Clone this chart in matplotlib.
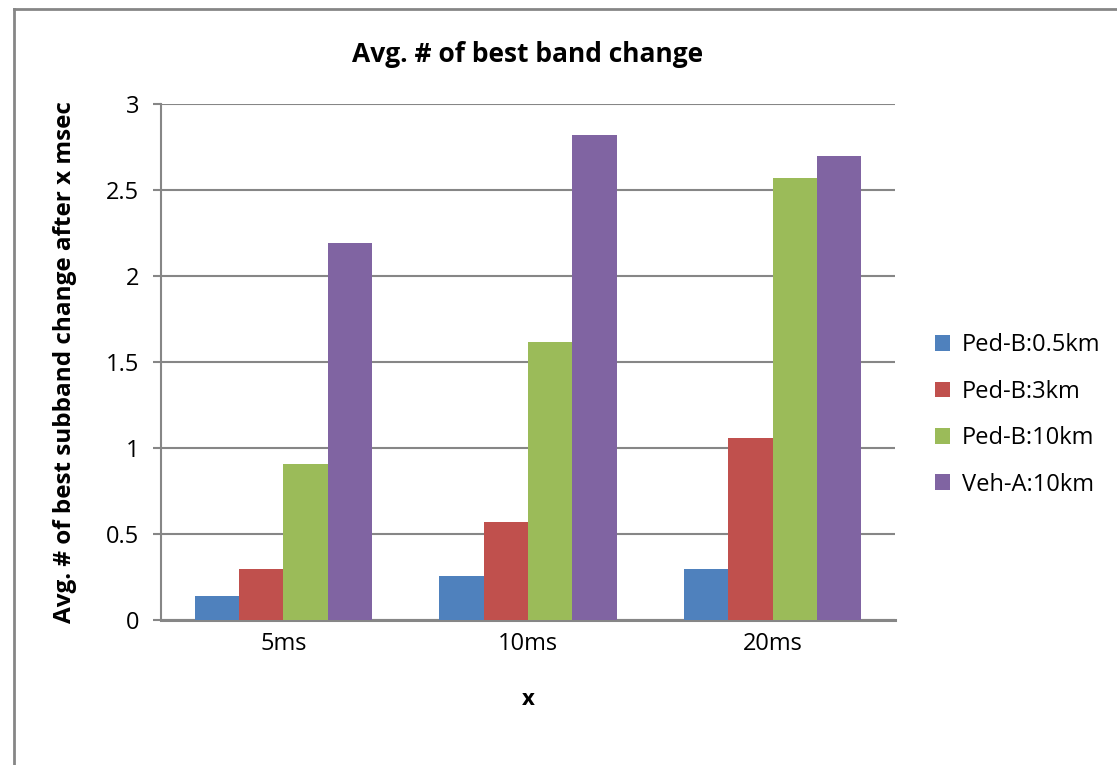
import numpy as np
import matplotlib.pyplot as plt
from matplotlib.lines import Line2D

plt.rcParams['font.family'] = ['Open Sans', 'DejaVu Sans']

# Dados
categorias = ['5ms', '10ms', '20ms']
series = ['Ped-B:0.5km', 'Ped-B:3km', 'Ped-B:10km', 'Veh-A:10km']
ped_b_05 = [0.14, 0.26, 0.30]
ped_b_3 = [0.30, 0.57, 1.06]
ped_b_10 = [0.91, 1.62, 2.57]
veh_a_10 = [2.19, 2.82, 2.70]
cores = ['#4F81BD', '#C0504D', '#9BBB59', '#8064A2']

valores = [ped_b_05, ped_b_3, ped_b_10, veh_a_10]

fig = plt.figure(figsize=(11.17, 7.65), dpi=100)
ax = fig.add_axes([0.1441, 0.189, 0.6572, 0.675])

x = np.arange(len(categorias))
largura = 0.181
for i, (nome, v, c) in enumerate(zip(series, valores, cores)):
    ax.bar(x + (i - 1.5) * largura, v, largura, color=c, label=nome, zorder=3)

ax.set_xlim(-0.5, 2.5)
ax.set_ylim(0, 3)
ax.set_yticks(np.arange(0, 3.01, 0.5))
ax.set_yticklabels(['0', '0.5', '1', '1.5', '2', '2.5', '3'])
ax.set_xticks(x)
ax.set_xticklabels(categorias)
ax.grid(axis='y', color='#868686', lw=1.5, zorder=0)

for lado in ['top', 'right']:
    ax.spines[lado].set_visible(False)
ax.spines['left'].set_color('#868686')
ax.spines['left'].set_linewidth(1.5)
ax.spines['bottom'].set_color('#868686')
ax.spines['bottom'].set_linewidth(2.2)
ax.tick_params(axis='y', length=5.5, width=1.5, color='#868686', labelsize=17, pad=10)
ax.tick_params(axis='x', length=0, labelsize=17, pad=8)

ax.set_title('Avg. # of best band change', fontsize=19, fontweight='bold', pad=30)
ax.set_ylabel('Avg. # of best subband change after x msec', fontsize=17.5,
              fontweight='bold', labelpad=21)
ax.set_xlabel('x', fontsize=16, fontweight='bold', labelpad=24)

ax.legend(loc='center left', bbox_to_anchor=(1.025, 0.398), frameon=False,
          fontsize=17, handlelength=0.65, handleheight=0.65, labelspacing=0.95,
          handletextpad=0.5)

# moldura do gráfico
fig.add_artist(Line2D([0.0125, 0.0125], [0, 0.988], color='#868686', lw=2))
fig.add_artist(Line2D([0.0125, 1], [0.988, 0.988], color='#868686', lw=2))

fig.savefig('out.png', dpi=100)
